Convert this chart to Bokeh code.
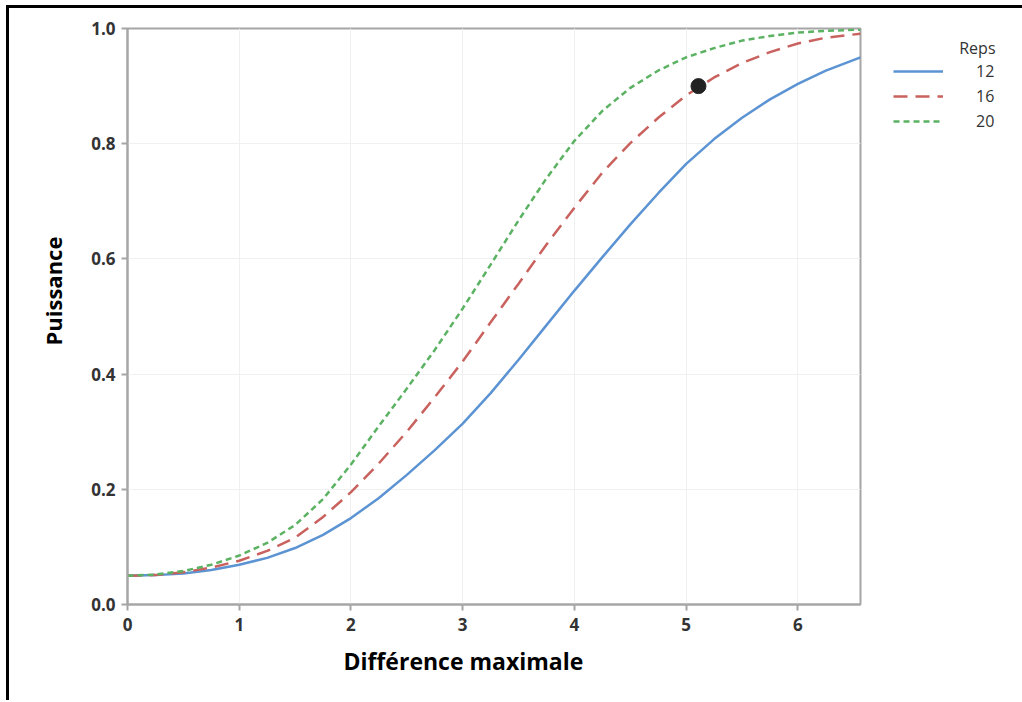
from bokeh.plotting import figure
from bokeh.layouts import row
from bokeh.models import (Legend, LegendItem, Label, FixedTicker, PrintfTickFormatter,
                          Range1d, Title)
from bokeh.embed import file_html
from bokeh.resources import INLINE

# Data
diff_max = [0.0, 0.25, 0.5, 0.75, 1.0, 1.25, 1.5, 1.75, 2.0, 2.25, 2.5, 2.75, 3.0, 3.25,
            3.5, 3.75, 4.0, 4.25, 4.5, 4.75, 5.0, 5.25, 5.5, 5.75, 6.0, 6.25, 6.56]
power_12 = [0.050, 0.051, 0.054, 0.060, 0.069, 0.081, 0.098, 0.121, 0.150, 0.185, 0.225, 0.268,
            0.314, 0.367, 0.425, 0.485, 0.545, 0.603, 0.660, 0.714, 0.765, 0.808, 0.845, 0.877,
            0.904, 0.927, 0.950]
power_16 = [0.050, 0.051, 0.056, 0.064, 0.076, 0.093, 0.116, 0.152, 0.195, 0.245, 0.300, 0.360,
            0.422, 0.490, 0.557, 0.625, 0.689, 0.750, 0.801, 0.845, 0.884, 0.915, 0.940, 0.959,
            0.974, 0.984, 0.991]
power_20 = [0.050, 0.052, 0.058, 0.069, 0.085, 0.107, 0.138, 0.183, 0.243, 0.310, 0.375, 0.442,
            0.514, 0.590, 0.667, 0.740, 0.805, 0.857, 0.897, 0.927, 0.950, 0.966, 0.979, 0.987,
            0.993, 0.996, 0.998]
reps_labels = ["12", "16", "20"]
legend_title = "Reps"
point_x = [5.11]
point_y = [0.90]
x_ticks = [0, 1, 2, 3, 4, 5, 6]
y_ticks = [0.0, 0.2, 0.4, 0.6, 0.8, 1.0]

FONT = "Open Sans"
AXIS_GRAY = "#a6a6a6"
TXT = "#333333"
COLORS = ["#5b93d3", "#c9625e", "#5bb262"]
DASHES = ["solid", "14 8", "6 4"]

# page offset caused by the black frame (margin + border)
OFF_X, OFF_Y = 9, 8
FRAME_TOP, FRAME_BOTTOM = 28, 604

p = figure(width=880 - OFF_X, height=700 - OFF_Y, output_backend="svg", toolbar_location=None,
           x_range=Range1d(0, 6.56), y_range=Range1d(0, 1.0),
           min_border_left=127 - OFF_X, min_border_right=20, min_border_top=FRAME_TOP - OFF_Y,
           min_border_bottom=96)
p.background_fill_color = "white"
p.border_fill_color = "white"
p.outline_line_color = AXIS_GRAY
p.outline_line_width = 2

p.xgrid.grid_line_color = "#f0f0f0"
p.ygrid.grid_line_color = "#f0f0f0"

for ax in (p.xaxis[0], p.yaxis[0]):
    ax.axis_line_color = AXIS_GRAY
    ax.axis_line_width = 2
    ax.major_tick_line_color = AXIS_GRAY
    ax.major_tick_line_width = 2
    ax.major_tick_out = 6
    ax.major_tick_in = 0
    ax.minor_tick_line_color = None
    ax.major_label_text_font = FONT
    ax.major_label_text_font_style = "bold"
    ax.major_label_text_font_size = "17px"
    ax.major_label_text_color = TXT

p.xaxis.ticker = FixedTicker(ticks=x_ticks)
p.yaxis.ticker = FixedTicker(ticks=y_ticks)
p.yaxis.formatter = PrintfTickFormatter(format="%.1f")
p.xaxis.major_label_standoff = 7
p.yaxis.major_label_standoff = 6

p.add_layout(Title(text="Différence maximale", align="left", offset=216, standoff=19,
                   text_font=FONT, text_font_style="bold", text_font_size="23px",
                   text_color="black"), "below")
p.add_layout(Title(text="Puissance", align="left", offset=259, standoff=42,
                   text_font=FONT, text_font_style="bold", text_font_size="22px",
                   text_color="black"), "left")

series = [power_12, power_16, power_20]
for vals, col, dash in zip(series, COLORS, DASHES):
    p.line(diff_max, vals, line_color=col, line_width=2.5, line_dash=dash)
p.scatter(point_x, point_y, size=15, color="#222222")

# legend panel (its frame is aligned with the main frame by the row layout)
q = figure(width=1022 - 880, height=700 - OFF_Y, output_backend="svg", toolbar_location=None,
           x_range=Range1d(880, 1022), y_range=Range1d(FRAME_BOTTOM, FRAME_TOP),
           min_border=0, min_border_left=0, min_border_right=0, min_border_top=0,
           min_border_bottom=0)
q.axis.visible = False
q.grid.visible = False
q.outline_line_color = None
q.background_fill_color = "white"
q.border_fill_color = "white"

items = []
for lab, vals, col, dash in zip(reps_labels, series, COLORS, DASHES):
    # same series, out of this panel's view: only its legend glyph shows
    r = q.line(diff_max, vals, line_color=col, line_width=2.5, line_dash=dash)
    items.append(LegendItem(label=lab, renderers=[r]))
legend = Legend(items=items, location=(893 - 880, FRAME_BOTTOM - 132), padding=0, margin=0,
                spacing=3, glyph_width=50, glyph_height=20, label_height=20, label_standoff=33,
                border_line_color=None, background_fill_alpha=0,
                label_text_font=FONT, label_text_font_size="16px", label_text_color=TXT)
q.add_layout(legend, "center")
q.add_layout(Label(x=995, y=47, text=legend_title, text_align="right", text_baseline="middle",
                   text_font=FONT, text_font_size="16px", text_color=TXT))

layout = row(p, q, spacing=0,
             styles={"margin-left": "6px", "margin-top": "5px",
                     "border-left": "3px solid black", "border-top": "3px solid black"})

open("out.html", "w").write(file_html(layout, INLINE))
